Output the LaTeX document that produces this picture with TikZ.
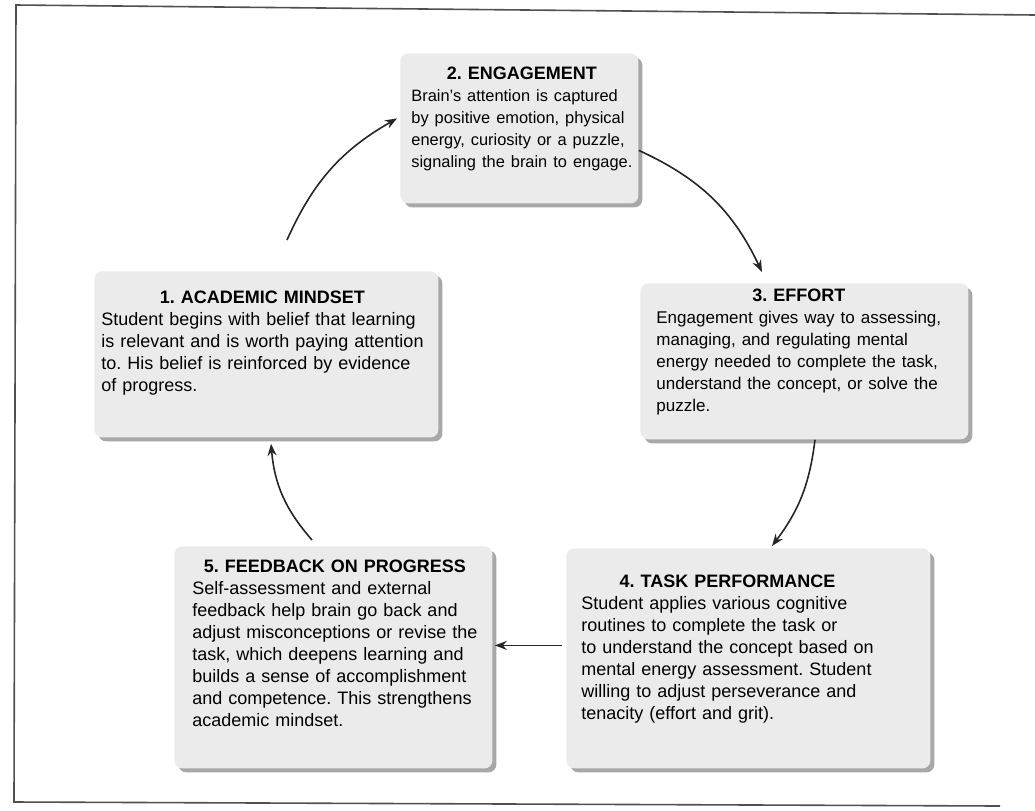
\documentclass[tikz,border=0pt]{standalone}
\usepackage{fontspec}
\setmainfont{Liberation Sans}
\usepackage{tikz}
\usetikzlibrary{arrows.meta,shadows}

\definecolor{boxfill}{HTML}{EBEBEB}
\definecolor{boxshade}{HTML}{A8A8A8}
\definecolor{framegray}{HTML}{505050}

\frenchspacing

\tikzset{
  stage/.style={fill=boxfill, rounded corners=4pt, align=left, anchor=north west,
    font=\fontsize{9}{11}\selectfont, inner ysep=0pt,
    drop shadow={shadow xshift=2pt, shadow yshift=-2pt, fill=boxshade, opacity=1}},
  flow/.style={-{Stealth[length=6pt,width=4.5pt]}, line width=0.8pt, black!85}
}
\newcommand{\stagetitle}[1]{\multicolumn{1}{@{}c@{}}{\fontsize{9}{11}\selectfont\bfseries #1}\\}
\newcommand{\smallbody}[1]{\fontsize{#1}{11}\selectfont}

\begin{document}
\begin{tikzpicture}[x=0.5pt,y=-0.5pt]
\useasboundingbox (0,0) rectangle (1035,810);
% outer frame
\draw[framegray, line width=0.8pt] (1035,15) -- (16,5) -- (14,802) -- (1000,806);

% the five stages, placed by their top left corners
\node[stage, inner xsep=3.5pt, text width=165pt, minimum height=83pt] (mind) at (94,271) {%
\begin{tabular}{@{}l@{}}
\stagetitle{1. ACADEMIC MINDSET}
Student begins with belief that learning\\
is relevant and is worth paying attention\\
to. His belief is reinforced by evidence\\
of progress.\\[11pt]
\end{tabular}};
\node[stage, inner xsep=5.5pt, text width=108pt, minimum height=75pt] (eng) at (400,53) {%
\smallbody{8.2}\begin{tabular}{@{}l@{}}
\stagetitle{2. ENGAGEMENT}
Brain’s attention is captured\\
by positive emotion, physical\\
energy, curiosity or a puzzle,\\
signaling the brain to engage.\\[9pt]
\end{tabular}};
\node[stage, inner xsep=8pt, text width=148pt, minimum height=78pt] (eff) at (640,283) {%
\smallbody{8.5}\begin{tabular}{@{}l@{}}
\stagetitle{3. EFFORT}
Engagement gives way to assessing,\\
managing, and regulating mental\\
energy needed to complete the task,\\
understand the concept, or solve the\\
puzzle.\\[9pt]
\end{tabular}};
\node[stage, inner xsep=7.5pt, text width=167pt, minimum height=110pt] (task) at (566,548) {%
\begin{tabular}{@{}l@{}}
\stagetitle{4. TASK PERFORMANCE}
Student applies various cognitive\\
routines to complete the task or\\
to understand the concept based on\\
mental energy assessment. Student\\
willing to adjust perseverance and\\
tenacity (effort and grit).\\[9pt]
\end{tabular}};
\node[stage, inner xsep=9pt, text width=141pt, minimum height=111pt] (feed) at (174,546) {%
\begin{tabular}{@{}l@{}}
\stagetitle{5. FEEDBACK ON PROGRESS}
Self-assessment and external\\
feedback help brain go back and\\
adjust misconceptions or revise the\\
task, which deepens learning and\\
builds a sense of accomplishment\\
and competence. This strengthens\\
academic mindset.\\[12pt]
\end{tabular}};

% the cycle
\draw[flow] ([xshift=96.5pt,yshift=15.5pt]mind.north west) to[bend left=18] ([xshift=-1.5pt,yshift=5pt]eng.west);
\draw[flow] ([yshift=-11pt]eng.east) to[bend left=20] ([xshift=61pt,yshift=5.5pt]eff.north west);
\draw[flow] ([xshift=87.5pt]eff.south west) to[bend left=15] ([xshift=103pt,yshift=1pt]task.north west);
\draw[flow] ([xshift=-2pt,yshift=6.5pt]task.west) -- ([xshift=1pt,yshift=6pt]feed.east);
\draw[flow] ([xshift=69pt,yshift=3pt]feed.north west) to[bend left=18] ([xshift=88.5pt,yshift=-3pt]mind.south west);
\end{tikzpicture}
\end{document}
